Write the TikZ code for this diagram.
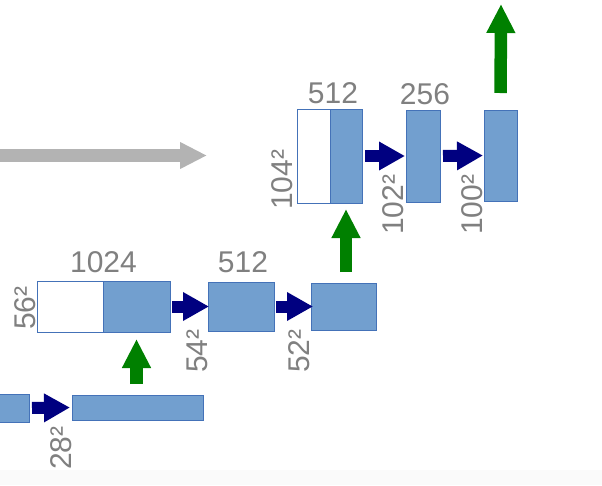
\documentclass[tikz,border=0pt]{standalone}
\usepackage{fontspec}
\setmainfont{Liberation Sans}
\usetikzlibrary{arrows.meta}
\definecolor{blkfill}{HTML}{729FCF}
\definecolor{blkline}{HTML}{4472B8}
\definecolor{lblgray}{HTML}{808080}
\definecolor{navyarr}{HTML}{000080}
\definecolor{greenarr}{HTML}{008000}
\definecolor{grayarr}{HTML}{B3B3B3}
\definecolor{bandgray}{HTML}{FAFAFA}
\tikzset{
  blk/.style={draw=blkline, fill=blkfill, line width=0.7pt, inner sep=0pt, outer sep=0pt, anchor=north west},
  wblk/.style={blk, fill=white},
  lbl/.style={text=lblgray, font=\fontsize{30}{30}\selectfont, inner sep=0pt, anchor=base},
  vlbl/.style={lbl, rotate=90, anchor=base west},
  navy/.style={draw=navyarr, line width=12pt, -{Triangle[length=26pt,width=27pt]}, shorten <=3pt},
  greenup/.style={draw=greenarr, line width=12.5pt, -{Triangle[length=29pt,width=27pt]}},
  grayright/.style={draw=grayarr, line width=13pt, -{Triangle[length=27pt,width=25pt]}}
}
\begin{document}
\begin{tikzpicture}[x=1pt,y=-1pt]
\useasboundingbox (0,0) rectangle (602,485);
\fill[bandgray] (0,470) rectangle (602,485);
% top row
\node[wblk, minimum width=33pt, minimum height=94pt] (w1) at (297,109) {};
\node[blk, minimum width=32pt, minimum height=94pt] (b1) at (330,109) {};
\node[blk, minimum width=34pt, minimum height=92pt] (r2) at (406,110) {};
\node[blk, minimum width=33pt, minimum height=91pt] (r3) at (484,110) {};
% middle row
\node[wblk, minimum width=66pt, minimum height=51pt] (w2) at (37,281) {};
\node[blk, minimum width=67pt, minimum height=51pt] (b2) at (103,281) {};
\node[blk, minimum width=66pt, minimum height=49pt] (r5) at (208,282) {};
\node[blk, minimum width=65pt, minimum height=47pt] (r6) at (311,283) {};
% bottom row
\node[blk, minimum width=36pt, minimum height=28pt] (r7) at (-7,394) {};
\node[blk, minimum width=131pt, minimum height=25pt] (r8) at (72,395) {};
% labels
\node[lbl] (t512a) at (333,103.5) {512};
\node[lbl] (t256) at (425,104) {256};
\node[lbl] (t1024) at (103.5,272) {1024};
\node[lbl] (t512b) at (243,272) {512};
\node[vlbl] (s104) at (292,210) {104²};
\node[vlbl] (s102) at (403,235) {102²};
\node[vlbl] (s100) at (482,235) {100²};
\node[vlbl] (s56) at (35,330) {56²};
\node[vlbl] (s54) at (207,373) {54²};
\node[vlbl] (s52) at (309,373) {52²};
\node[vlbl] (s28) at (71,470) {28²};
% navy arrows
\draw[navy, shorten >=1pt] (b1.east) -- (r2.west);
\draw[navy, shorten >=1pt] (r2.east) -- (r3.west);
\draw[navy, shorten <=2pt, shorten >=-1pt] (b2.east) -- (r5.west);
\draw[navy, shorten <=2pt, shorten >=-2pt] (r5.east) -- (r6.west);
\draw[navy, shorten >=2pt] (r7.east) -- (r8.west);
% green arrows
\draw[greenup, shorten <=11pt, shorten >=7pt] (r8.north -| b2.south) -- (b2.south);
\draw[greenup, shorten <=11pt, shorten >=6pt] (r6.north -| b1.south) -- (b1.south);
\coordinate (outtop) at (501,4);
\draw[greenup, shorten <=17pt] (r3.north) -- (outtop);
% gray arrow
\coordinate (gstart) at (-2,155.5);
\coordinate (gend) at (207,155.5);
\draw[grayright] (gstart) -- (gend);
\end{tikzpicture}
\end{document}
